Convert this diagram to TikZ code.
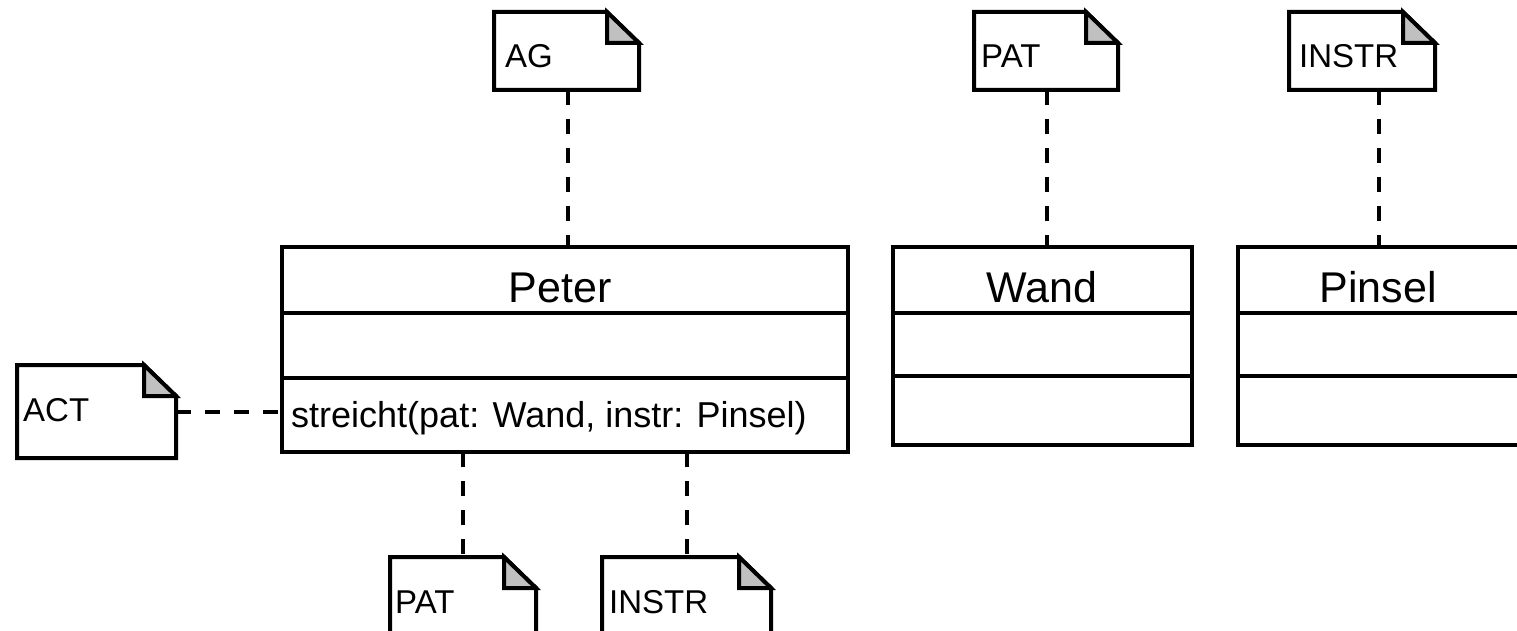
\documentclass[tikz,border=0pt]{standalone}
\usepackage{fontspec}
\setmainfont{Liberation Sans}
\definecolor{foldgray}{HTML}{C0C0C0}
\newcommand\umlnote[7]{% name, x, y, width, height, label x-offset, label
  \node[notenode, minimum width=#4pt, minimum height=#5pt, anchor=north west] (#1) at (#2,#3) {};
  \draw[outline, fill=white] (#1.north west) -- ([xshift=-32pt]#1.north east) -- ([yshift=-31pt]#1.north east) -- (#1.south east) -- (#1.south west) -- cycle;
  \draw[outline, fill=foldgray] ([xshift=-32pt]#1.north east) -- ([xshift=-32pt,yshift=-31pt]#1.north east) -- ([yshift=-31pt]#1.north east) -- cycle;
  \node[notelbl] (#1-lbl) at ([xshift=#6pt,yshift=-56pt]#1.north west) {#7};
}
\begin{document}
\begin{tikzpicture}[x=1pt,y=-1pt,line join=miter,
  outline/.style={draw=black, line width=4pt},
  dashline/.style={draw=black, line width=4pt, dash pattern=on 15pt off 14pt},
  notenode/.style={inner sep=0pt, outer sep=0pt},
  classbox/.style={draw=black, line width=4pt, inner sep=0pt, outer sep=0pt, fill=white},
  notelbl/.style={font=\fontsize{33}{40}\selectfont, anchor=base west, inner sep=0pt},
  classname/.style={font=\fontsize{43}{51}\selectfont, anchor=base, inner sep=0pt},
  oplbl/.style={font=\fontsize{36}{43}\selectfont, anchor=base west, inner sep=0pt}]
\useasboundingbox (0,0) rectangle (1517,631);

% class boxes
\node[classbox, minimum width=566pt, minimum height=205pt, anchor=north west] (peter) at (282,247) {};
\draw[outline] ([yshift=-66pt]peter.north west) -- ([yshift=-66pt]peter.north east);
\draw[outline] ([yshift=-131pt]peter.north west) -- ([yshift=-131pt]peter.north east);
\node[classname] (peterlbl) at (560,302) {Peter};
\node[oplbl] (peterop) at (291,427) {streicht(pat: Wand, instr: Pinsel)};

\node[classbox, minimum width=299pt, minimum height=198pt, anchor=north west] (wand) at (893,247) {};
\draw[outline] ([yshift=-66pt]wand.north west) -- ([yshift=-66pt]wand.north east);
\draw[outline] ([yshift=-129pt]wand.north west) -- ([yshift=-129pt]wand.north east);
\node[classname] (wandlbl) at (1042,302) {Wand};

\node[classbox, minimum width=284pt, minimum height=198pt, anchor=north west] (pinsel) at (1238,247) {};
\draw[outline] ([yshift=-66pt]pinsel.north west) -- ([yshift=-66pt]pinsel.north east);
\draw[outline] ([yshift=-129pt]pinsel.north west) -- ([yshift=-129pt]pinsel.north east);
\node[classname] (pinsellbl) at (1378,302) {Pinsel};

% notes
\umlnote{agnote}{494}{12}{145}{78}{11}{AG}
\umlnote{patnote}{974}{12}{144}{78}{7}{PAT}
\umlnote{instrnote}{1289}{12}{146}{78}{10}{INSTR}
\umlnote{actnote}{17}{365}{159}{93}{6}{ACT}
\umlnote{patnote2}{390}{557}{146}{90}{5}{PAT}
\umlnote{instrnote2}{602}{557}{169}{90}{7}{INSTR}

% connectors
\coordinate (agtop) at (568,90);
\draw[dashline] (agtop) -- (agtop |- peter.north);
\coordinate (pattop) at (1047,90);
\draw[dashline] (pattop) -- (pattop |- wand.north);
\coordinate (instrtop) at (1379,90);
\draw[dashline] (instrtop) -- (instrtop |- pinsel.north);
\draw[dashline] (actnote.east) -- (actnote.east -| peter.west);
\draw[dashline] (patnote2.north |- peter.south) -- (patnote2.north);
\draw[dashline] (instrnote2.north |- peter.south) -- (instrnote2.north);
\end{tikzpicture}
\end{document}
